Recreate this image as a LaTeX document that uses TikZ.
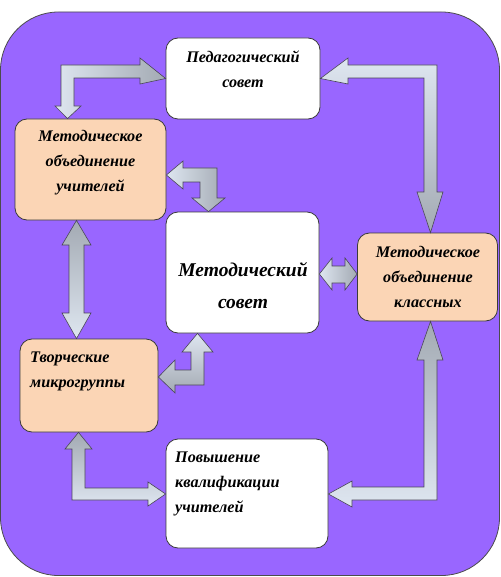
\documentclass[tikz,border=0pt]{standalone}
\usepackage{fontspec}
\setmainfont{Liberation Serif}
\definecolor{bgpurple}{HTML}{9966FF}
\definecolor{peach}{HTML}{FBD5B5}
\definecolor{boxline}{HTML}{3A3A3A}
\definecolor{arrlight}{HTML}{DEE6F0}
\definecolor{arrdark}{HTML}{A3AAB3}
\definecolor{arrline}{HTML}{4A4658}
\tikzset{
  box/.style={draw=boxline, line width=0.8pt, rounded corners=12pt, inner sep=0pt},
  whitebox/.style={box, fill=white},
  peachbox/.style={box, fill=peach},
  lbl/.style={font=\fontsize{16.2}{25}\selectfont\bfseries\itshape, inner sep=0pt},
  biglbl/.style={font=\fontsize{19.5}{32}\selectfont\bfseries\itshape, inner sep=0pt},
  blockarrow/.style={draw=arrline, line width=0.6pt, line join=miter},
  shadeh/.style={blockarrow, left color=arrlight, right color=arrdark},
  shadev/.style={blockarrow, top color=arrlight, bottom color=arrdark},
  shadevr/.style={blockarrow, top color=arrdark, bottom color=arrlight},
}
\begin{document}
\begin{tikzpicture}[x=1pt,y=-1pt]
\useasboundingbox (0,0) rectangle (500,577);
% background
\draw[fill=bgpurple, draw=black!70, line width=0.8pt, rounded corners=58pt] (0.5,12) rectangle (499.5,575.5);

% boxes
\node[whitebox, minimum width=154pt, minimum height=81pt] (ped) at (243,78.5) {};
\node[peachbox, minimum width=151pt, minimum height=101pt] (mou) at (90.5,169.5) {};
\node[whitebox, minimum width=153pt, minimum height=121pt] (ms) at (242.5,272.5) {};
\node[peachbox, minimum width=140pt, minimum height=88pt] (mok) at (427.5,277) {};
\node[peachbox, minimum width=138pt, minimum height=93pt] (tm) at (89,385.5) {};
\node[whitebox, minimum width=162pt, minimum height=109pt] (pk) at (247,493.5) {};

% labels
\node[lbl, align=center] (pedt) at (243,69.5) {Педагогический\\совет};
\node[lbl, align=center] (mout) at (90.5,163) {Методическое\\объединение\\учителей};
\node[biglbl, align=center] (mst) at (243,286) {Методический\\совет};
\node[lbl, align=center] (mokt) at (428,277) {Методическое\\объединение\\классных};
\node[lbl, align=left, anchor=west] (tmt) at (30,371.5) {Творческие\\микрогруппы};
\node[lbl, align=left, anchor=west] (pkt) at (175,484) {Повышение\\квалификации\\учителей};

% A1: to ped (right) and mou (down)
\draw[shadeh] (61,65) -- (140,65) -- (140,58) -- (ped.west) -- (140,84) -- (140,78) -- (74,78) -- (74,106) -- (81,106) -- (mou.north -| 67.5,0) -- (55,106) -- (61,106) -- cycle;
% A2: to ped (left) and mok (down)
\draw[shadev] (437,65) -- (348,65) -- (348,58) -- (ped.east) -- (348,84) -- (348,78) -- (424,78) -- (424,192) -- (417,192) -- (mok.north -| 430.5,0) -- (443,192) -- (437,192) -- cycle;
% A3: mou <-> ms bent
\draw[shadeh] (mou.east |- 0,175) -- (183,161) -- (183,168) -- (217,168) -- (217,198) -- (225,198) -- (ms.north -| 208.5,0) -- (192,198) -- (200,198) -- (200,182) -- (183,182) -- (183,189) -- cycle;
% A4: mou <-> tm vertical
\draw[shadevr] (mou.south -| 76.5,0) -- (91,245) -- (84,245) -- (84,313) -- (91,313) -- (tm.north -| 76.5,0) -- (62,313) -- (69,313) -- (69,245) -- (62,245) -- cycle;
% A5: tm <-> ms bent
\draw[shadev] (ms.south -| 197.5,0) -- (213,352) -- (204,352) -- (204,385) -- (175,385) -- (175,393) -- (tm.east |- 0,377) -- (175,360) -- (175,370) -- (191,370) -- (191,352) -- (182,352) -- cycle;
% A6: ms <-> mok horizontal
\draw[shadeh] (ms.east |- 0,274) -- (332,258) -- (332,266) -- (345,266) -- (345,258) -- (mok.west |- 0,274) -- (345,290) -- (345,283) -- (332,283) -- (332,290) -- cycle;
% A7: tm <-> pk bent
\draw[shadevr] (tm.south -| 78.5,0) -- (92,449) -- (85,449) -- (85,488) -- (148,488) -- (148,482) -- (pk.west |- 0,494) -- (148,506) -- (148,500) -- (72,500) -- (72,449) -- (65,449) -- cycle;
% A8: mok <-> pk bent
\draw[shadevr] (mok.south -| 430.5,0) -- (443,360) -- (437,360) -- (437,500) -- (352,500) -- (352,507) -- (pk.east |- 0,494) -- (352,481) -- (352,487) -- (424,487) -- (424,360) -- (417,360) -- cycle;
\end{tikzpicture}
\end{document}
